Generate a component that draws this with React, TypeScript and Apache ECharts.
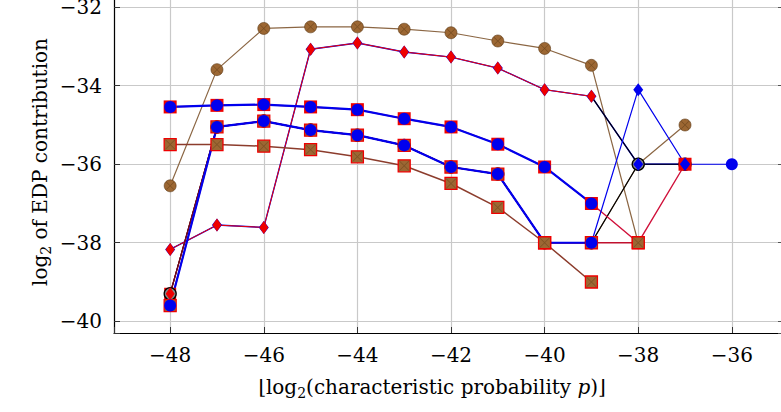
import React, { useEffect, useRef } from 'react';
import * as echarts from 'echarts';

// ---- data ----
const brownCircleX = [-48, -47, -46, -45, -44, -43, -42, -41, -40, -39, -38];
const brownCircleY = [-36.55, -33.59, -32.54, -32.5, -32.5, -32.56, -32.65, -32.86, -33.05, -33.48, -38];
const brownTailX = [-39, -38, -37];
const brownTailY = [-38, -36, -35];

const topX = [-48, -47, -46, -45, -44, -43, -42, -41, -40, -39, -38, -37];
const topY = [-34.54, -34.5, -34.48, -34.54, -34.61, -34.84, -35.05, -35.49, -36.07, -37.0, -38, -36];
const topBlueX = [-48, -47, -46, -45, -44, -43, -42, -41, -40, -39];
const topBlueY = [-34.54, -34.5, -34.48, -34.54, -34.61, -34.84, -35.05, -35.49, -36.07, -37.0];

const midX = [-48, -47, -46, -45, -44, -43, -42, -41, -40, -39];
const midRedY = [-39.3, -35.05, -34.9, -35.13, -35.26, -35.52, -36.07, -36.25, -38, -38];
const midBlueY = [-39.6, -35.05, -34.9, -35.13, -35.26, -35.52, -36.07, -36.25, -38, -38];
const midBrownX = [-48, -47, -46, -45, -44, -43, -42, -41, -40, -39, -38];
const midBrownY = [-39.6, -35.05, -34.9, -35.13, -35.26, -35.52, -36.07, -36.25, -38, -38, -38];

const blackX = [-48, -47, -46, -45, -44, -43, -42, -41, -40, -39, -38, -37];
const blackY = [-39.3, -35.05, -34.9, -35.13, -35.26, -35.52, -36.07, -36.25, -38, -38, -36, -36];

const upperX = [-48, -47, -46, -45, -44, -43, -42, -41, -40, -39, -38, -37];
const upperY = [-38.17, -37.55, -37.61, -33.07, -32.91, -33.14, -33.27, -33.55, -34.1, -34.27, -36, -36];
const starX = [-48, -47, -46, -45, -44, -43, -42, -41, -40, -39];
const starY = [-38.17, -37.55, -37.61, -33.07, -32.91, -33.14, -33.27, -33.55, -34.1, -34.27];
const linkX = [-39, -38, -37];
const linkY = [-34.27, -36, -36];

const lowerBlueX = [-39, -38, -37, -36];
const lowerBlueY = [-38, -34.1, -36, -36];
const lowerBlueSymbols = ['none', 'diamond', 'diamond', 'circle'];

const bottomX = [-48, -47, -46, -45, -44, -43, -42, -41, -40, -39];
const bottomY = [-35.5, -35.5, -35.54, -35.63, -35.81, -36.04, -36.49, -37.1, -38, -39];

const xTicks = [-48, -46, -44, -42, -40, -38, -36];

// ---- style constants ----
const BLUE = '#0000ee';
const RED = '#ee0000';
const BROWN = '#9c6733';
const BROWN_LINE = '#8b6643';
const BROWN_DARK = '#5a3814';
const FONT = 'DejaVu Serif';
const XMARK = 'path://M0 0.5L0.5 0L10 9.5L9.5 10Z M9.5 0L10 0.5L0.5 10L0 9.5Z';

// chart canvas is slightly larger than the page so the plot frame can run past the edges
const CW = 795;
const CH = 422;
const OFFSET_TOP = 10;

const pts = (xs: number[], ys: number[]) => xs.map((x, i) => [x, ys[i]]);
const fmt = (v: number) => String(v).replace('-', '\u2212');

function line(xs: number[], ys: number[], o: any) {
  return {
    type: 'line',
    z: 3,
    silent: true,
    data: pts(xs, ys),
    symbol: o.symbol ?? 'none',
    symbolSize: o.size ?? 12,
    showSymbol: o.symbol !== undefined && o.symbol !== 'none',
    itemStyle: o.item ?? {},
    lineStyle: { color: o.lc, width: o.lw ?? 1, type: 'solid' },
    emphasis: { disabled: true },
  };
}

function xmarks(xs: number[], ys: number[], size: number, opacity: number) {
  return {
    type: 'scatter',
    z: 3,
    silent: true,
    data: pts(xs, ys),
    symbol: XMARK,
    symbolSize: size,
    itemStyle: { color: BROWN_DARK, opacity },
    emphasis: { disabled: true },
  };
}

export default function App() {
  const ref = useRef<HTMLDivElement>(null);
  useEffect(() => {
    if (!ref.current) return;
    const chart = echarts.init(ref.current, undefined, { renderer: 'svg' });
    const brownSq = { color: BROWN, borderColor: RED, borderWidth: 1.3 };
    const series: any[] = [
      line(brownCircleX, brownCircleY, { lc: BROWN_LINE, lw: 1.2, symbol: 'circle', size: 12, item: { color: BROWN, borderColor: BROWN_DARK, borderWidth: 0.6 } }),
      xmarks(brownCircleX, brownCircleY, 8, 0.6),
      line(brownTailX, brownTailY, { lc: BROWN_LINE, lw: 1.2, symbol: 'circle', size: 12, item: { color: BROWN, borderColor: BROWN_DARK, borderWidth: 0.6 } }),
      xmarks(brownTailX, brownTailY, 8, 0.6),
      line(midX, midRedY, { lc: RED, lw: 1.2, symbol: 'rect', size: 12, item: { color: RED } }),
      line(blackX, blackY, { lc: '#000', lw: 1.2, symbol: 'circle', size: 12, item: { color: '#8a8a8a', borderColor: '#000', borderWidth: 1.3 } }),
      line(topX, topY, { lc: '#d0103a', lw: 1.4, symbol: 'rect', size: 13, item: { color: RED } }),
      line(upperX, upperY, { lc: BLUE, lw: 1.4, symbol: 'diamond', size: [10, 13], item: { color: BLUE } }),
      line(linkX, linkY, { lc: '#000', lw: 1.2 }),
      line(starX, starY, { lc: RED, lw: 1, symbol: 'diamond', size: [9, 13], item: { color: RED } }),
      line(midX, midRedY, { lc: '#7a0a20', lw: 1.2, symbol: 'diamond', size: [9, 13], item: { color: RED } }),
      line(midBrownX, midBrownY, { lc: '#c0102e', lw: 1.4, symbol: 'rect', size: 12, item: brownSq }),
      xmarks(midBrownX, midBrownY, 10, 0.45),
      line(topBlueX, topBlueY, { lc: BLUE, lw: 2.2, symbol: 'circle', size: 12, item: { color: BLUE } }),
      line(midX, midBlueY, { lc: BLUE, lw: 2.2, symbol: 'circle', size: 12, item: { color: BLUE } }),
      {
        ...line(lowerBlueX, lowerBlueY, { lc: BLUE, lw: 1.2, symbol: 'diamond', size: [10, 13], item: { color: BLUE } }),
        data: lowerBlueX.map((x, i) => ({
          value: [x, lowerBlueY[i]],
          symbol: lowerBlueSymbols[i],
          symbolSize: lowerBlueSymbols[i] === 'circle' ? 12 : [10, 13],
        })),
      },
      line(bottomX, bottomY, { lc: '#8c3c2c', lw: 1.5, symbol: 'rect', size: 12, item: brownSq }),
      xmarks(bottomX, bottomY, 10, 0.45),
    ];

    chart.setOption({
      animation: false,
      backgroundColor: '#fff',
      grid: { left: 114, right: CW - 788, top: OFFSET_TOP - 1, bottom: CH - OFFSET_TOP - 333, containLabel: false },
      xAxis: {
        type: 'value',
        min: -49.2,
        max: -34.8,
        minInterval: 2,
        maxInterval: 2,
        axisLine: { show: true, onZero: false, lineStyle: { color: '#000', width: 1.2 } },
        axisTick: { show: true, inside: true, length: 6, lineStyle: { color: '#333', width: 1 } },
        axisLabel: {
          margin: 12,
          fontFamily: FONT,
          fontSize: 20,
          color: '#000',
          showMinLabel: true,
          showMaxLabel: true,
          formatter: (v: number) => (xTicks.includes(v) ? fmt(v) : ''),
        },
        splitLine: { show: true, lineStyle: { color: '#c9c9c9', width: 1.2 } },
      },
      yAxis: [
        {
          type: 'value',
          min: -40.3,
          max: -31.79,
          minInterval: 2,
          maxInterval: 2,
          axisLine: { show: true, onZero: false, lineStyle: { color: '#000', width: 1.2 } },
          axisTick: { show: true, inside: true, length: 6, lineStyle: { color: '#333', width: 1 } },
          axisLabel: {
            margin: 12,
            fontFamily: FONT,
            fontSize: 20,
            color: '#000',
            formatter: (v: number) => (Number.isInteger(v) && v % 2 === 0 ? fmt(v) : ''),
          },
          splitLine: { show: true, lineStyle: { color: '#c9c9c9', width: 1.2 } },
        },
        {
          type: 'value',
          position: 'right',
          min: -40.3,
          max: -31.79,
          minInterval: 2,
          maxInterval: 2,
          axisLine: { show: true, onZero: false, lineStyle: { color: '#000', width: 1.2 } },
          axisTick: { show: true, inside: true, length: 10, lineStyle: { color: '#555', width: 1 } },
          axisLabel: { show: false },
          splitLine: { show: false },
        },
      ],
      graphic: [
        {
          type: 'text',
          x: 432,
          y: 387 + OFFSET_TOP,
          silent: true,
          style: {
            text: '\u230A{m|log}{s|2}{m|(characteristic probability }{i|p}{m|)}\u230B',
            fill: '#000',
            font: `20px "${FONT}"`,
            align: 'center',
            verticalAlign: 'middle',
            rich: {
              m: { fontFamily: FONT, fontSize: 20, fill: '#000' },
              s: { fontFamily: FONT, fontSize: 14, fill: '#000', padding: [12, 0, 0, 0] },
              i: { fontFamily: FONT, fontSize: 20, fontStyle: 'italic', fill: '#000' },
            },
          },
        },
        {
          type: 'text',
          x: 40,
          y: 162 + OFFSET_TOP,
          rotation: Math.PI / 2,
          silent: true,
          style: {
            text: '{m|log}{s|2}{m| of EDP contribution}',
            fill: '#000',
            font: `20px "${FONT}"`,
            align: 'center',
            verticalAlign: 'middle',
            rich: {
              m: { fontFamily: FONT, fontSize: 20, fill: '#000' },
              s: { fontFamily: FONT, fontSize: 14, fill: '#000', padding: [12, 0, 0, 0] },
            },
          },
        },
      ],
      series,
    });
    return () => chart.dispose();
  }, []);
  return (
    <div style={{ position: 'absolute', left: 0, top: 0, width: 781, height: 412, overflow: 'hidden' }}>
      <div
        ref={ref}
        style={{ position: 'absolute', left: 0, top: -OFFSET_TOP, width: CW, height: CH }}
      />
    </div>
  );
}
